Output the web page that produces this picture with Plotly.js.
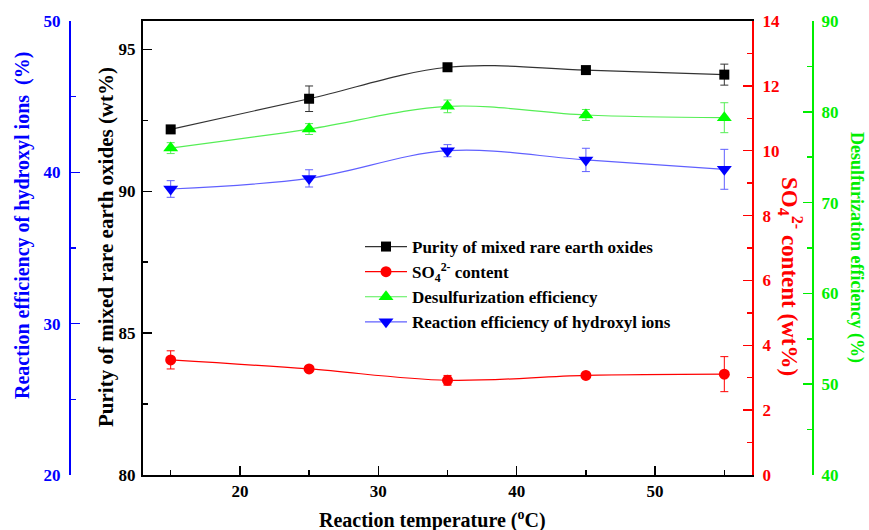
<!DOCTYPE html>
<html><head><meta charset="utf-8">
<script src="https://cdn.plot.ly/plotly-3.0.1.min.js"></script>
<style>body{margin:0;background:#fff}</style>
</head><body>
<div id="chart" style="width:869px;height:530px"></div>
<script>
const temperature = [15, 25, 35, 45, 55];
const purity = [92.18, 93.26, 94.37, 94.27, 94.11];
const purityErr = [0.1, 0.45, 0.1, 0.1, 0.37];
const sulfate = [3.55, 3.27, 2.92, 3.07, 3.11];
const sulfateErr = [0.28, 0.05, 0.15, 0.05, 0.54];
const desulf = [76.0, 78.1, 80.6, 79.65, 79.35];
const desulfErr = [0.6, 0.6, 0.7, 0.6, 1.65];
const hydroxyl = [38.9, 39.6, 41.43, 40.82, 40.2];
const hydroxylErr = [0.55, 0.57, 0.4, 0.77, 1.32];

const names = [
  'Purity of mixed rare earth oxides',
  'SO<sub>4</sub><sup>2-</sup> content',
  'Desulfurization efficiency',
  'Reaction efficiency of hydroxyl ions'
];

const FONT = 'Liberation Serif, Times New Roman, serif';

function mk(y, err, name, axis, lineColor, markColor, symbol, size) {
  return {
    x: temperature, y: y, name: name, yaxis: axis, type: 'scatter', mode: 'lines+markers',
    line: {color: lineColor, width: 1.2, shape: 'spline', smoothing: 1},
    marker: {color: markColor, symbol: symbol, size: size},
    error_y: {type: 'data', array: err, visible: true, color: lineColor, thickness: 1, width: 4}
  };
}

const data = [
  mk(purity, purityErr, names[0], 'y', '#333333', '#000000', 'square', 10),
  mk(sulfate, sulfateErr, names[1], 'y3', '#ff0000', '#ff0000', 'circle', 11),
  mk(desulf, desulfErr, names[2], 'y4', '#55ee55', '#00ff00', 'triangle-up', 13),
  mk(hydroxyl, hydroxylErr, names[3], 'y2', '#6060ff', '#0000ff', 'triangle-down', 13)
];

function yax(color, range, dtick, minorDtick, side, extra) {
  return Object.assign({
    range: range, dtick: dtick, side: side,
    showline: true, linecolor: color, linewidth: 2,
    ticks: 'inside', ticklen: 9, tickwidth: 1.5, tickcolor: color,
    minor: {ticks: 'inside', ticklen: 5, tickwidth: 1.5, tickcolor: color, dtick: minorDtick},
    showgrid: false, zeroline: false,
    tickfont: {family: FONT, size: 17, color: color, weight: 'bold'}
  }, extra);
}

const dom = [143 / 869, 752 / 869];
const PLOT_TOP = 21, PLOT_BOTTOM = 475;
function py(pix) { return (PLOT_BOTTOM - pix) / (PLOT_BOTTOM - PLOT_TOP); }

function title(text, x, y, angle, size, color) {
  return {text: text, x: x / 869, y: py(y), xref: 'paper', yref: 'paper',
          xanchor: 'center', yanchor: 'middle', textangle: angle, showarrow: false,
          font: {family: FONT, size: size, color: color, weight: 'bold'}};
}

const layout = {
  width: 869, height: 530,
  margin: {l: 0, r: 0, t: PLOT_TOP, b: 530 - PLOT_BOTTOM},
  paper_bgcolor: '#fff', plot_bgcolor: '#fff',
  showlegend: true,
  legend: {
    x: 360 / 869, y: py(229), xanchor: 'left', yanchor: 'top',
    bgcolor: 'rgba(0,0,0,0)', borderwidth: 0,
    font: {family: FONT, size: 17, color: '#000', weight: 'bold'},
    itemwidth: 42,
    tracegroupgap: 0
  },
  xaxis: {
    domain: dom, range: [13, 57], dtick: 10, tick0: 0,
    showline: true, linecolor: '#000', linewidth: 2, mirror: true,
    ticks: 'inside', ticklen: 9, tickwidth: 1.5, tickcolor: '#000',
    minor: {ticks: 'inside', ticklen: 5, tickwidth: 1.5, tickcolor: '#000', dtick: 5},
    showgrid: false, zeroline: false,
    tickfont: {family: FONT, size: 17, color: '#000', weight: 'bold'}
  },
  yaxis: yax('#000', [80, 96], 5, 2.5, 'left', {anchor: 'x', ticklabelstandoff: 2}),
  yaxis2: yax('#0000ff', [20, 50], 10, 5, 'left', {overlaying: 'y', anchor: 'free', position: 70 / 869, ticklabelstandoff: 5}),
  yaxis3: yax('#ff0000', [0, 14], 2, 1, 'right', {overlaying: 'y', anchor: 'x', ticklabelstandoff: 5}),
  yaxis4: yax('#00ee00', [40, 90], 10, 5, 'right', {overlaying: 'y', anchor: 'free', position: 813 / 869, ticklabelstandoff: 4}),
  annotations: [
    title('Reaction temperature (<sup>o</sup>C)', 432, 519, 0, 20, '#000'),
    title('Reaction efficiency of hydroxyl ions  (%)', 23, 226, -90, 20, '#0000ff'),
    title('Purity of mixed rare earth oxides (wt%)', 106, 247, -90, 21, '#000'),
    title('SO<sub>4</sub><sup>2-</sup> content (wt%)', 791, 276, 90, 23, '#ff0000'),
    title('Desulfurization efficiency (%)', 857, 247, 90, 18, '#00ee00')
  ]
};

Plotly.newPlot('chart', data, layout, {displayModeBar: false, staticPlot: true});
</script>
</body></html>
